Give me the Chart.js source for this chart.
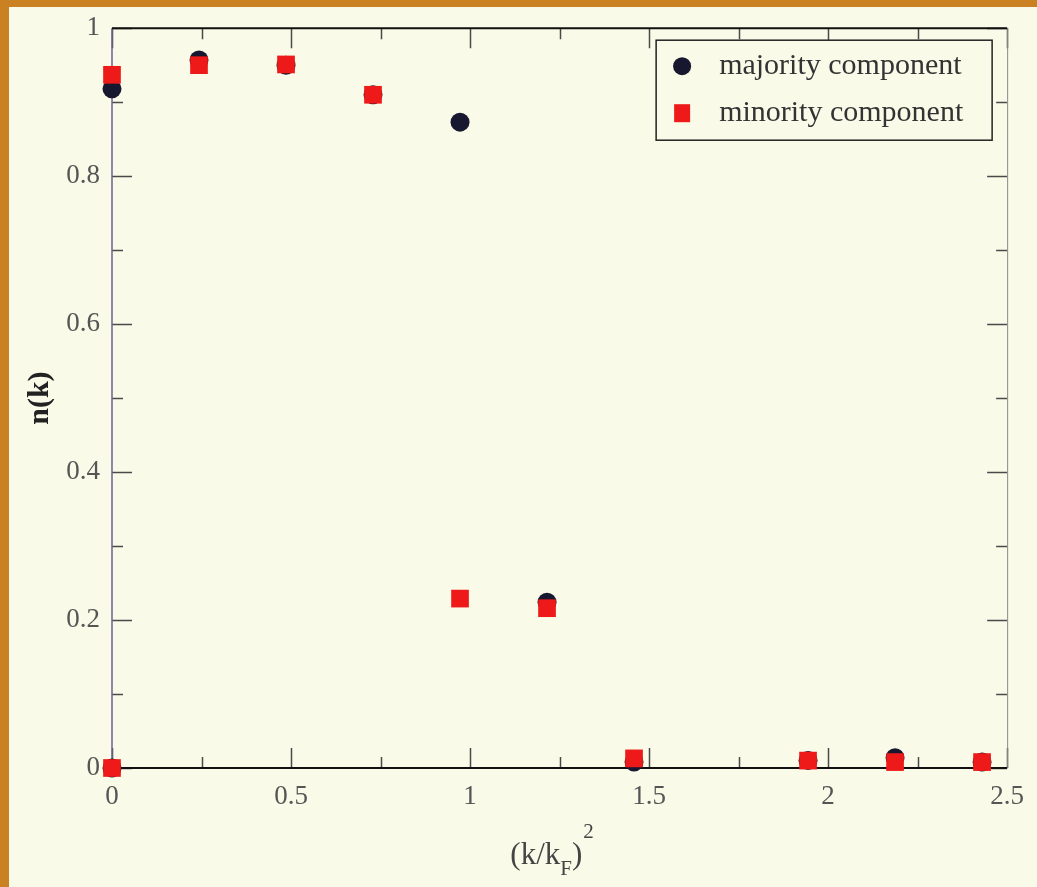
<!DOCTYPE html>
<html>
<head>
<meta charset="utf-8">
<script src="https://cdn.jsdelivr.net/npm/chart.js@4.4.1/dist/chart.umd.min.js"></script>
<style>
  html, body { margin: 0; padding: 0; background: #fafae8; overflow: hidden; }
  #wrap { position: relative; width: 1037px; height: 887px; }
  canvas { position: absolute; left: 0; top: 0; }
  .bt { position: absolute; left: 0; top: 0; width: 1037px; height: 7px; background: #c98122; }
  .bl { position: absolute; left: 0; top: 0; width: 9px; height: 887px; background: #c98122; }
</style>
</head>
<body>
<div id="wrap">
  <canvas id="c" width="1037" height="887"></canvas>
  <div class="bt"></div>
  <div class="bl"></div>
</div>
<script>
// ---- data ----
const kSquared = [0, 0, 0.243, 0.486, 0.729, 0.972, 1.215, 1.458, 1.944, 2.187, 2.43];
const majority = [0.918, 0.0, 0.957, 0.950, 0.910, 0.873, 0.224, 0.008, 0.010, 0.014, 0.008];
const minority = [0.937, 0.0, 0.950, 0.951, 0.910, 0.229, 0.216, 0.013, 0.010, 0.008, 0.008];
const seriesNames = ['majority component', 'minority component'];
const xTickValues = [0, 0.5, 1, 1.5, 2, 2.5];
const xTickLabels = ['0', '0.5', '1', '1.5', '2', '2.5'];
const yTickValues = [0, 0.2, 0.4, 0.6, 0.8, 1];
const yTickLabels = ['0', '0.2', '0.4', '0.6', '0.8', '1'];
const yAxisTitle = 'n(k)';
const xAxisTitleParts = ['(k/k', 'F', ')', '2'];

const toPoints = (xs, ys) => xs.map((x, i) => ({ x: x, y: ys[i] }));

const SERIF = '"Liberation Serif", "DejaVu Serif", serif';

function labelFor(values, labels, v) {
  for (let i = 0; i < values.length; i++) {
    if (Math.abs(values[i] - v) < 1e-6) return labels[i];
  }
  return '';
}

const framePlugin = {
  id: 'frame',
  beforeDatasetsDraw(chart) {
    const { ctx, chartArea: a, scales } = chart;
    const xs = scales.x, ys = scales.y;
    ctx.save();
    ctx.strokeStyle = '#4a4a4a';
    ctx.lineWidth = 1.5;
    const major = 20, minor = 11;
    for (let v = 0; v <= 2.5001; v += 0.25) {
      const px = Math.round(xs.getPixelForValue(v)) + 0.5;
      const len = (Math.abs(v / 0.5 - Math.round(v / 0.5)) < 1e-6) ? major : minor;
      ctx.beginPath();
      ctx.moveTo(px, a.bottom); ctx.lineTo(px, a.bottom - len);
      ctx.moveTo(px, a.top); ctx.lineTo(px, a.top + len);
      ctx.stroke();
    }
    for (let v = 0; v <= 1.0001; v += 0.1) {
      const py = Math.round(ys.getPixelForValue(v)) + 0.5;
      const len = (Math.abs(v / 0.2 - Math.round(v / 0.2)) < 1e-6) ? major : minor;
      ctx.beginPath();
      ctx.moveTo(a.left, py); ctx.lineTo(a.left + len, py);
      ctx.moveTo(a.right, py); ctx.lineTo(a.right - len, py);
      ctx.stroke();
    }
    ctx.lineWidth = 1.5;
    ctx.strokeStyle = '#6e6290';
    ctx.beginPath(); ctx.moveTo(a.left, a.top); ctx.lineTo(a.left, a.bottom); ctx.stroke();
    ctx.strokeStyle = '#8a8a8a';
    ctx.lineWidth = 1;
    ctx.beginPath(); ctx.moveTo(a.right + 0.5, a.top); ctx.lineTo(a.right + 0.5, a.bottom); ctx.stroke();
    ctx.strokeStyle = '#111';
    ctx.lineWidth = 2;
    ctx.beginPath(); ctx.moveTo(a.left, a.top); ctx.lineTo(a.right, a.top); ctx.stroke();
    ctx.beginPath(); ctx.moveTo(a.left, a.bottom); ctx.lineTo(a.right, a.bottom); ctx.stroke();
    ctx.restore();
  },
  afterDraw(chart) {
    const { ctx, chartArea: a } = chart;
    ctx.save();
    // legend box
    const bx = a.right - 351, by = a.top + 12, bw = 336, bh = 100;
    ctx.fillStyle = '#fafae8';
    ctx.fillRect(bx, by, bw, bh);
    ctx.strokeStyle = '#222';
    ctx.lineWidth = 1.5;
    ctx.strokeRect(bx, by, bw, bh);
    ctx.font = '30px ' + SERIF;
    ctx.textBaseline = 'middle';
    ctx.textAlign = 'left';
    const ds = chart.data.datasets;
    ds.forEach((d, i) => {
      const cy = by + 26 + i * 47;
      const cx = bx + 26;
      ctx.fillStyle = d.backgroundColor;
      if (d.pointStyle === 'circle') {
        ctx.beginPath(); ctx.arc(cx, cy, 9, 0, Math.PI * 2); ctx.fill();
      } else {
        ctx.fillRect(cx - 8, cy - 9, 16, 18);
      }
      ctx.fillStyle = '#333';
      ctx.fillText(d.label, bx + 63, cy);
    });
    // x axis title with sub/superscript
    ctx.fillStyle = '#444';
    ctx.textBaseline = 'alphabetic';
    const big = '31px ' + SERIF, small = '21px ' + SERIF;
    ctx.font = big;
    const w0 = ctx.measureText(xAxisTitleParts[0]).width;
    const w2 = ctx.measureText(xAxisTitleParts[2]).width;
    ctx.font = small;
    const w1 = ctx.measureText(xAxisTitleParts[1]).width;
    const w3 = ctx.measureText(xAxisTitleParts[3]).width;
    const total = w0 + w1 + w2 + w3;
    let x = (a.left + a.right) / 2 - total / 2 - 8;
    const base = 864;
    ctx.font = big; ctx.fillText(xAxisTitleParts[0], x, base); x += w0;
    ctx.font = small; ctx.fillText(xAxisTitleParts[1], x, base + 11); x += w1;
    ctx.font = big; ctx.fillText(xAxisTitleParts[2], x, base); x += w2;
    ctx.font = small; ctx.fillText(xAxisTitleParts[3], x + 1, base - 26);
    ctx.restore();
  }
};

new Chart(document.getElementById('c'), {
  type: 'scatter',
  data: {
    datasets: [
      {
        label: seriesNames[0],
        data: toPoints(kSquared, majority),
        pointStyle: 'circle',
        pointRadius: 9.5,
        pointHoverRadius: 9.5,
        backgroundColor: '#17172f',
        borderColor: '#17172f',
        borderWidth: 0,
        clip: false,
        order: 2
      },
      {
        label: seriesNames[1],
        data: toPoints(kSquared, minority),
        pointStyle: 'rect',
        pointRadius: 12.5,
        pointHoverRadius: 12.5,
        backgroundColor: '#ee1a1a',
        borderColor: '#ee1a1a',
        borderWidth: 0,
        clip: false,
        order: 1
      }
    ]
  },
  options: {
    responsive: false,
    animation: false,
    layout: { padding: { left: 0, top: 25, right: 29, bottom: 0 } },
    plugins: {
      legend: { display: false },
      tooltip: { enabled: false }
    },
    scales: {
      x: {
        type: 'linear',
        min: 0, max: 2.5,
        afterBuildTicks: (s) => { s.ticks = xTickValues.map(v => ({ value: v })); },
        afterFit: (s) => { s.height = 887 - 768; },
        grid: { display: false, drawTicks: false },
        border: { display: false },
        ticks: {
          padding: 13,
          color: '#555',
          font: { family: SERIF, size: 27 },
          callback: (v) => labelFor(xTickValues, xTickLabels, v),
          maxRotation: 0,
          autoSkip: false
        }
      },
      y: {
        type: 'linear',
        min: 0, max: 1,
        afterBuildTicks: (s) => { s.ticks = yTickValues.map(v => ({ value: v })); },
        afterFit: (s) => { s.width = 112; },
        grid: { display: false, drawTicks: false },
        border: { display: false },
        ticks: {
          padding: 12,
          color: '#555',
          font: { family: SERIF, size: 27 },
          callback: (v) => labelFor(yTickValues, yTickLabels, v),
          autoSkip: false
        },
        title: {
          display: true,
          text: yAxisTitle,
          color: '#222',
          font: { family: SERIF, size: 30, weight: 'bold' },
          padding: { top: 22, bottom: 0 }
        }
      }
    }
  },
  plugins: [framePlugin]
});
</script>
</body>
</html>
